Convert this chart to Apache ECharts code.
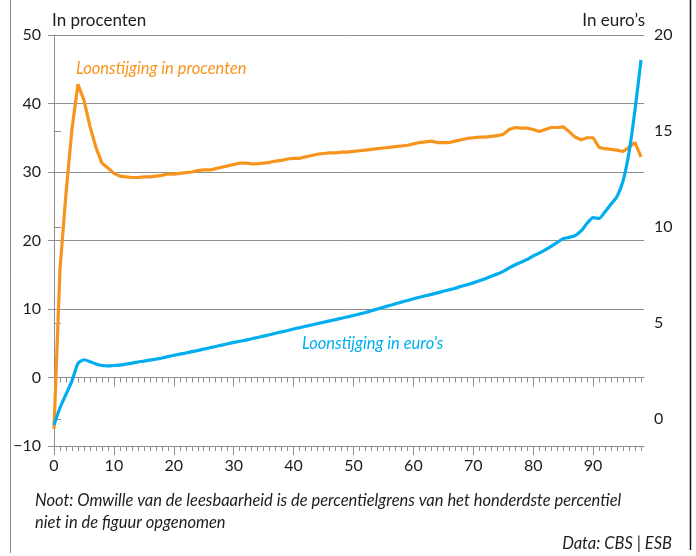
<!DOCTYPE html>
<html lang="nl">
<head>
  <meta charset="UTF-8">
  <title>Loonstijging per percentiel</title>
  <script src="https://cdn.jsdelivr.net/npm/echarts@6/dist/echarts.min.js"></script>
  <style>
    html, body { margin: 0; padding: 0; background: #fff; }
    #chart { width: 696px; height: 556px; }
  </style>
</head>
<body>
  <div id="chart"></div>
  <script>
    // percentielen 0 t/m 98
    var percentielen = [];
    for (var p = 0; p <= 98; p++) percentielen.push(p);

    // loonstijging in procenten (linker as)
    var procenten = [
      -7.5, 15.8, 26.8, 36.3, 42.8, 40.5, 36.7, 33.6, 31.3, 30.6,
      29.8, 29.4, 29.3, 29.2, 29.2, 29.3, 29.3, 29.4, 29.5, 29.7,
      29.7, 29.8, 29.9, 30.0, 30.2, 30.3, 30.3, 30.5, 30.7, 30.9,
      31.1, 31.3, 31.3, 31.2, 31.2, 31.3, 31.4, 31.6, 31.7, 31.9,
      32.0, 32.0, 32.2, 32.4, 32.6, 32.7, 32.8, 32.8, 32.9, 32.9,
      33.0, 33.1, 33.2, 33.3, 33.4, 33.5, 33.6, 33.7, 33.8, 33.9,
      34.1, 34.3, 34.4, 34.5, 34.3, 34.3, 34.3, 34.5, 34.7, 34.9,
      35.0, 35.1, 35.1, 35.2, 35.3, 35.5, 36.2, 36.5, 36.4, 36.4,
      36.2, 35.9, 36.2, 36.5, 36.5, 36.6, 35.9, 35.1, 34.7, 35.0,
      35.0, 33.6, 33.4, 33.3, 33.2, 33.0, 33.6, 34.3, 32.2
    ];

    // loonstijging in euro's (rechter as)
    var euros = [
      -0.3, 0.6, 1.3, 2.0, 2.9, 3.1, 3.0, 2.88, 2.8, 2.78,
      2.8, 2.82, 2.87, 2.92, 2.98, 3.03, 3.08, 3.13, 3.19, 3.26,
      3.33, 3.39, 3.45, 3.52, 3.58, 3.65, 3.72, 3.79, 3.86, 3.93,
      4.0, 4.06, 4.12, 4.19, 4.26, 4.33, 4.4, 4.48, 4.55, 4.62,
      4.7, 4.77, 4.84, 4.91, 4.98, 5.05, 5.12, 5.19, 5.26, 5.33,
      5.4, 5.48, 5.56, 5.65, 5.74, 5.83, 5.92, 6.01, 6.1, 6.18,
      6.27, 6.35, 6.43, 6.5, 6.58, 6.66, 6.74, 6.82, 6.92, 7.01,
      7.1, 7.21, 7.32, 7.44, 7.56, 7.7, 7.88, 8.04, 8.18, 8.32,
      8.5, 8.65, 8.82, 9.0, 9.2, 9.4, 9.47, 9.56, 9.8, 10.2,
      10.5, 10.45, 10.8, 11.2, 11.6, 12.4, 13.9, 16.1, 18.7
    ];

    var linksTicks = [-10, 0, 10, 20, 30, 40, 50];
    var rechtsTicks = [0, 5, 10, 15, 20];
    var xLabels = [0, 10, 20, 30, 40, 50, 60, 70, 80, 90];

    var oranje = '#f7941d';
    var blauw = '#00aeef';
    var asKleur = '#8e8e8e';
    var tekst = '#1d1d1b';
    var font = 'Lato';

    function xAs(opts) {
      return Object.assign({
        type: 'value',
        min: -0.5,
        max: 98.5,
        position: 'bottom',
        axisLine: { show: true, onZero: false, lineStyle: { color: asKleur } },
        axisTick: { show: false },
        axisLabel: { show: false },
        splitLine: { show: false }
      }, opts);
    }

    var chart = echarts.init(document.getElementById('chart'));
    chart.setOption({
      animation: false,
      grid: { left: 51, right: 52, top: 35, bottom: 110 },
      xAxis: [
        // onderste as met labels en grote streepjes
        xAs({
          axisTick: { show: true, customValues: xLabels, length: 9, lineStyle: { color: asKleur } },
          axisLabel: {
            show: true, customValues: xLabels, margin: 12,
            color: tekst, fontFamily: font, fontSize: 16
          }
        }),
        // onderste as, kleine streepjes
        xAs({
          axisLine: { show: false, onZero: false },
          axisTick: { show: true, customValues: percentielen, length: 5, lineStyle: { color: asKleur } }
        }),
        // as op nul, grote streepjes
        xAs({
          axisLine: { show: true, onZero: true, onZeroAxisIndex: 0, lineStyle: { color: asKleur } },
          axisTick: { show: true, customValues: xLabels, length: 9, lineStyle: { color: asKleur } }
        }),
        // as op nul, kleine streepjes
        xAs({
          axisLine: { show: false, onZero: true, onZeroAxisIndex: 0 },
          axisTick: { show: true, customValues: percentielen, length: 5, lineStyle: { color: asKleur } }
        })
      ],
      yAxis: [
        {
          type: 'value',
          position: 'left',
          min: -10,
          max: 50,
          interval: 10,
          axisLine: { show: true, lineStyle: { color: asKleur } },
          axisTick: { show: true, length: 6, lineStyle: { color: asKleur } },
          axisLabel: {
            color: tekst, fontFamily: font, fontSize: 16, margin: 10,
            formatter: function (v) { return v < 0 ? '\u2212' + Math.abs(v) : String(v); }
          },
          splitLine: { show: true, lineStyle: { color: asKleur, width: 1 } }
        },
        {
          type: 'value',
          position: 'right',
          min: -1.39,
          max: 20,
          axisLine: { show: true, lineStyle: { color: asKleur } },
          axisTick: { show: true, customValues: rechtsTicks, length: 7, lineStyle: { color: asKleur } },
          axisLabel: {
            customValues: rechtsTicks, color: tekst, fontFamily: font, fontSize: 16, margin: 10
          },
          splitLine: { show: false }
        }
      ],
      series: [
        {
          name: 'Loonstijging in procenten',
          type: 'line',
          xAxisIndex: 0,
          yAxisIndex: 0,
          data: percentielen.map(function (p, i) { return [p, procenten[i]]; }),
          showSymbol: false,
          lineStyle: { color: oranje, width: 3.2 },
          itemStyle: { color: oranje }
        },
        {
          name: "Loonstijging in euro's",
          type: 'line',
          xAxisIndex: 0,
          yAxisIndex: 1,
          data: percentielen.map(function (p, i) { return [p, euros[i]]; }),
          showSymbol: false,
          smooth: 0.2,
          lineStyle: { color: blauw, width: 3.2 },
          itemStyle: { color: blauw }
        }
      ],
      graphic: [
        { type: 'line', shape: { x1: 10.5, y1: 0, x2: 10.5, y2: 553 }, style: { stroke: '#8a8a8a', lineWidth: 1 } },
        { type: 'line', shape: { x1: 690.5, y1: 0, x2: 690.5, y2: 550 }, style: { stroke: '#111', lineWidth: 1.5 } },
        {
          type: 'text', left: 52, top: 12,
          style: { text: 'In procenten', fill: tekst, font: '17px ' + font }
        },
        {
          type: 'text', right: 51, top: 12,
          style: { text: 'In euro\u2019s', fill: tekst, font: '17px ' + font, textAlign: 'right' }
        },
        {
          type: 'text', left: 76, top: 60,
          style: { text: 'Loonstijging in procenten', fill: oranje, font: 'italic 16.5px ' + font }
        },
        {
          type: 'text', left: 302, top: 335,
          style: { text: "Loonstijging in euro's", fill: blauw, font: 'italic 16.5px ' + font }
        },
        {
          type: 'text', left: 35, top: 490,
          style: {
            text: 'Noot: Omwille van de leesbaarheid is de percentielgrens van het honderdste percentiel\nniet in de figuur opgenomen',
            fill: tekst, font: 'italic 16.5px ' + font, lineHeight: 22
          }
        },
        {
          type: 'text', right: 24, top: 535,
          style: { text: 'Data: CBS | ESB', fill: tekst, font: 'italic 16.5px ' + font, textAlign: 'right' }
        }
      ]
    });
  </script>
</body>
</html>
